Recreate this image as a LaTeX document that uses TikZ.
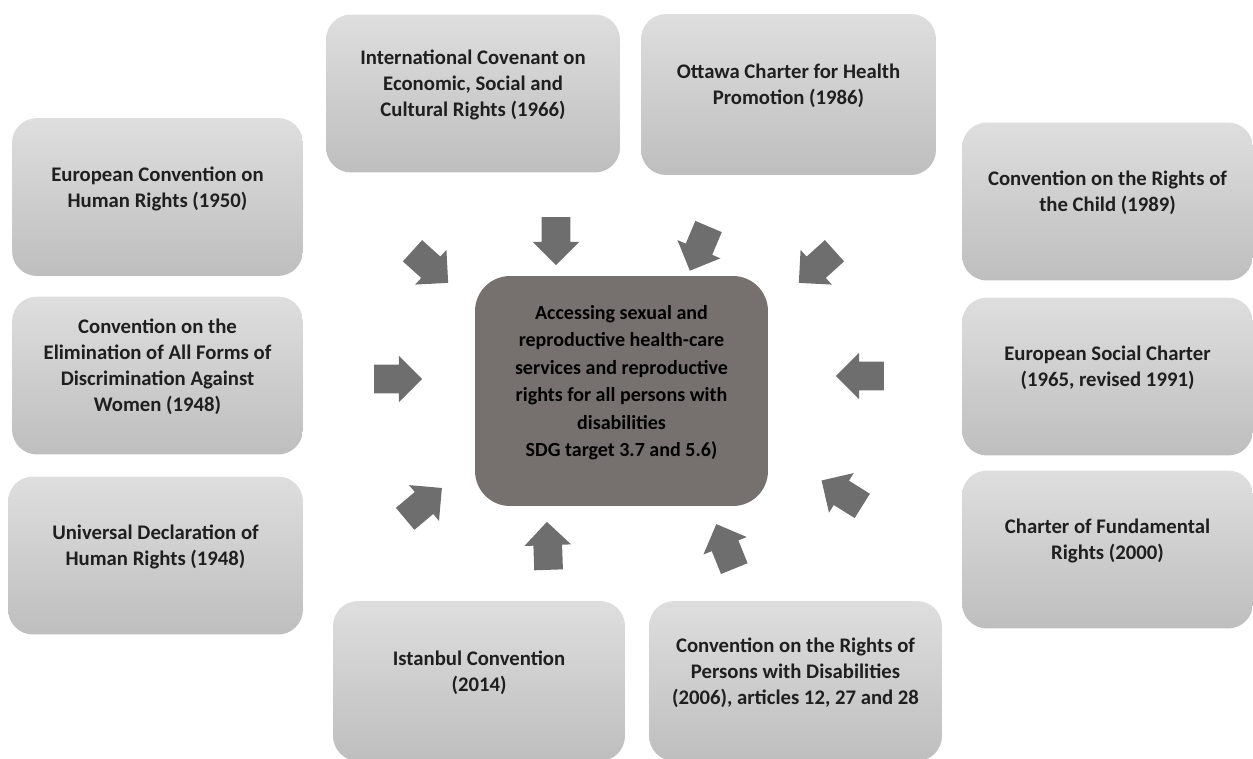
\documentclass[tikz,border=0pt]{standalone}
\usepackage{fontspec}
\setmainfont{Carlito}
\usepackage{tikz}
\usetikzlibrary{shapes.arrows}
\definecolor{boxtop}{RGB}{222,222,222}
\definecolor{boxbottom}{RGB}{190,190,190}
\definecolor{goalgrey}{RGB}{118,113,111}
\definecolor{arrowgrey}{RGB}{110,110,110}

\begin{document}
\begin{tikzpicture}[x=0.02cm, y=-0.02cm,
    every node/.style={font=\fontsize{11.8}{14.8}\selectfont\bfseries},
    treaty/.style={rounded corners=0.5cm, top color=boxtop, bottom color=boxbottom, minimum width=5.82cm, minimum height=3.16cm, align=center, text depth=0.4cm, text=black!88},
    push/.style={single arrow, fill=arrowgrey, inner sep=0.28cm, minimum height=0.96cm, single arrow head extend=0.18cm}]
    \useasboundingbox (0,0) rectangle (1253,758);
    \node[treaty] (echr) at (157.5,197) {European Convention on\\Human Rights (1950)};
    \node[treaty] (cedaw) at (157.5,375.5) {Convention on the\\Elimination of All Forms of\\Discrimination Against\\Women (1948)};
    \node[treaty, minimum width=5.9cm] (udhr) at (155.5,555.5) {Universal Declaration of\\Human Rights (1948)};
    \node[treaty, minimum width=5.88cm] (icescr) at (473,93.5) {International Covenant on\\Economic, Social and\\Cultural Rights (1966)};
    \node[treaty, minimum width=5.9cm, minimum height=3.22cm] (ottawa) at (788.5,94.5) {Ottawa Charter for Health\\Promotion (1986)};
    \node[treaty] (crc) at (1107.5,201.5) {Convention on the Rights of\\the Child (1989)};
    \node[treaty] (esc) at (1107.5,376.5) {European Social Charter\\(1965, revised 1991)};
    \node[treaty] (cfr) at (1107.5,549.5) {Charter of Fundamental\\Rights (2000)};
    \node[treaty, minimum width=5.84cm, minimum height=3.2cm] (istanbul) at (479,681) {Istanbul Convention\\(2014)};
    \node[treaty, minimum width=5.86cm, minimum height=3.2cm] (crpd) at (795.5,681) {Convention on the Rights of\\Persons with Disabilities\\(2006), articles 12, 27 and 28};
    \node[rounded corners=0.7cm, fill=goalgrey, minimum width=5.86cm, minimum height=4.6cm, align=center, text depth=0.4cm, text=black, font=\fontsize{11.4}{15.6}\selectfont\bfseries] (goal) at (621.5,391) {Accessing sexual and\\reproductive health-care\\services and reproductive\\rights for all persons with\\disabilities\\SDG target 3.7 and 5.6)};
    \node[push, rotate=-42] (a1) at (425,262) {};
    \node[push, rotate=-90] (a2) at (556,234) {};
    \node[push, rotate=-113] (a3) at (702,242) {};
    \node[push, rotate=-138] (a4) at (822,262) {};
    \node[push, rotate=0] (a5) at (391,379) {};
    \node[push, rotate=180] (a6) at (867,376) {};
    \node[push, rotate=148] (a7) at (848,497) {};
    \node[push, rotate=40] (a8) at (418,508) {};
    \node[push, rotate=92] (a9) at (548,553) {};
    \node[push, rotate=112] (a10) at (728,553) {};
\end{tikzpicture}
\end{document}
